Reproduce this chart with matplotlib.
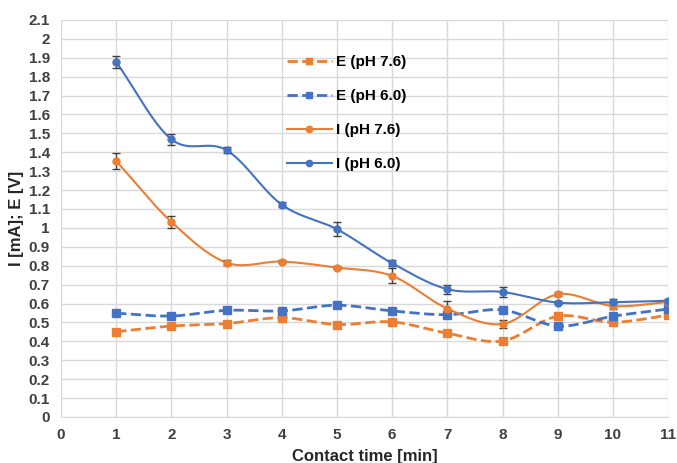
import matplotlib.pyplot as plt
import numpy as np
from matplotlib.ticker import FuncFormatter

plt.rcParams['font.family'] = ['Liberation Sans', 'DejaVu Sans']

# data
t = [1, 2, 3, 4, 5, 6, 7, 8, 9, 10, 11]
E_76 = [0.451, 0.481, 0.494, 0.525, 0.489, 0.503, 0.443, 0.402, 0.533, 0.501, 0.538]
E_60 = [0.549, 0.534, 0.564, 0.561, 0.591, 0.561, 0.541, 0.566, 0.481, 0.533, 0.571]
I_76 = [1.354, 1.032, 0.816, 0.822, 0.790, 0.746, 0.573, 0.492, 0.649, 0.587, 0.608]
I_60 = [1.878, 1.469, 1.411, 1.123, 0.993, 0.813, 0.676, 0.661, 0.605, 0.607, 0.615]
I_76_err = [0.040, 0.030, 0.012, 0.008, 0.010, 0.040, 0.042, 0.020, 0.010, 0.015, 0.008]
I_60_err = [0.030, 0.030, 0.015, 0.015, 0.037, 0.015, 0.023, 0.027, 0.010, 0.015, 0.010]

orange = '#ED7D31'
blue = '#4472C4'


def smooth(x, y, n=20):
    # catmull-rom curve through the points, like excel "smoothed line"
    x = np.asarray(x, float)
    y = np.asarray(y, float)
    px = np.concatenate([[2 * x[0] - x[1]], x, [2 * x[-1] - x[-2]]])
    py = np.concatenate([[2 * y[0] - y[1]], y, [2 * y[-1] - y[-2]]])
    xs, ys = [], []
    s = np.linspace(0, 1, n, endpoint=False)
    for i in range(1, len(px) - 2):
        for arr, out in ((px, xs), (py, ys)):
            p0, p1, p2, p3 = arr[i - 1], arr[i], arr[i + 1], arr[i + 2]
            out.extend(0.5 * (2 * p1 + (-p0 + p2) * s
                              + (2 * p0 - 5 * p1 + 4 * p2 - p3) * s ** 2
                              + (-p0 + 3 * p1 - 3 * p2 + p3) * s ** 3))
    xs.append(x[-1])
    ys.append(y[-1])
    return xs, ys


fig = plt.figure(figsize=(6.77, 4.63), dpi=100)
ax = fig.add_axes([0.090, 0.0994, 0.897, 0.8576])

series = [
    (E_76, None, orange, '--', 's', 'E (pH 7.6)'),
    (E_60, None, blue, '--', 's', 'E (pH 6.0)'),
    (I_76, I_76_err, orange, '-', 'o', 'I (pH 7.6)'),
    (I_60, I_60_err, blue, '-', 'o', 'I (pH 6.0)'),
]
for y, err, col, ls, mk, lab in series:
    xs, ys = smooth(t, y)
    lw = 2.0 if ls == '--' else 1.5
    ax.plot(xs, ys, color=col, ls=ls, lw=lw, zorder=3)
    if err is not None:
        ax.errorbar(t, y, yerr=err, fmt='none', ecolor='#404040', elinewidth=1,
                    capsize=3, capthick=1, zorder=4)
    ms = 5.5 if mk == 's' else 5
    ax.plot(t, y, ls='none', marker=mk, ms=ms, color=col, zorder=5)
    ax.plot([], [], color=col, ls=ls, lw=lw, marker=mk, ms=ms - 0.5, label=lab)

ax.set_xlim(0, 11)
ax.set_ylim(0, 2.1)
ax.set_xticks(range(0, 12))
ax.set_yticks(np.round(np.arange(0, 2.11, 0.1), 1))
ax.yaxis.set_major_formatter(FuncFormatter(lambda v, p: ('%.1f' % v).rstrip('0').rstrip('.')))
ax.grid(True, color='#d9d9d9', lw=1)
ax.set_axisbelow(True)
for s in ['top', 'right', 'left']:
    ax.spines[s].set_visible(False)
ax.spines['bottom'].set_color('#d9d9d9')
ax.tick_params(length=0, labelsize=11, pad=8)
for lbl in ax.get_xticklabels() + ax.get_yticklabels():
    lbl.set_fontweight('bold')
    lbl.set_color('#404040')
ax.set_xlabel('Contact time [min]', fontsize=12, fontweight='bold', color='#262626', labelpad=5)
ax.set_ylabel('I [mA]; E [V]', fontsize=12, fontweight='bold', color='#262626', labelpad=3)

ax.legend(loc='upper left', bbox_to_anchor=(0.35, 0.945), frameon=False,
          labelspacing=1.3, handlelength=2.9, handletextpad=0.3,
          prop={'weight': 'bold', 'size': 11})

fig.savefig('out.png', dpi=100)
